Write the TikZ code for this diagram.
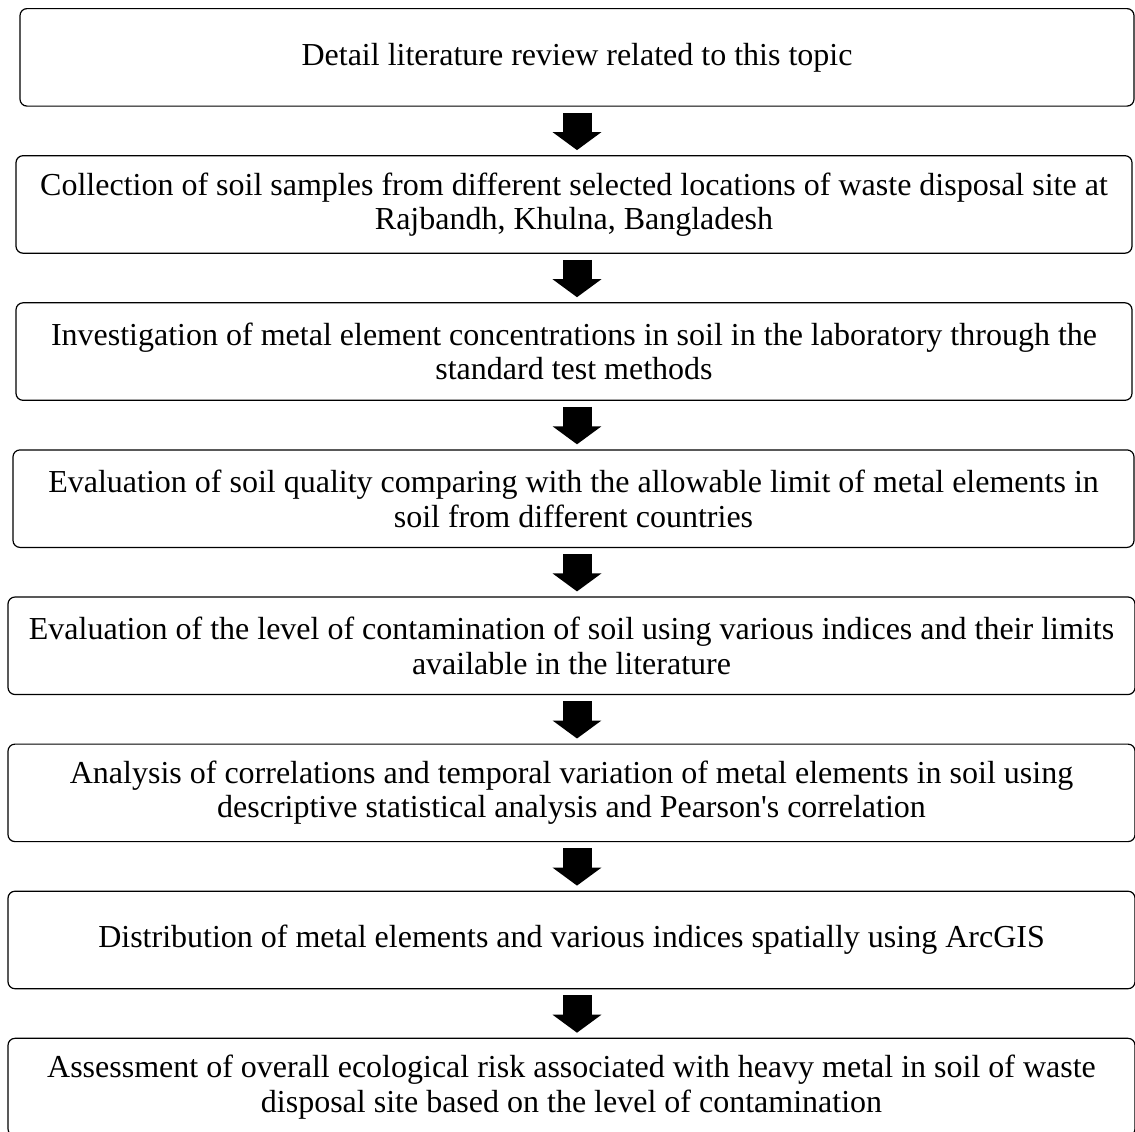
\documentclass[tikz,border=0pt]{standalone}
\usepackage{fontspec}
\setmainfont{Liberation Serif}
\usepackage{tikz}
\usetikzlibrary{positioning,arrows.meta}

\begin{document}
\begin{tikzpicture}[node distance=24.2pt,
        stage/.style={rectangle, draw, rounded corners=3.5pt, line width=0.6pt, minimum height=48.75pt, inner sep=0pt, align=center, font=\fontsize{16}{17.25}\selectfont},
        flow/.style={-{Triangle[width=24pt,length=9pt]}, line width=14.5pt}]
        \clip (0,0) rectangle (567.5pt,-565.5pt);
                \node (review) [stage, minimum width=557pt, anchor=north] at (288.5pt,-4pt) {Detail literature review related to this topic};
                \node (sampling) [stage, minimum width=558pt, below=of review, xshift=-1.5pt] {Collection of soil samples from different selected locations of waste disposal site at\\Rajbandh, Khulna, Bangladesh};
                \node (labtest) [stage, minimum width=558pt, below=of sampling] {Investigation of metal element concentrations in soil in the laboratory through the\\standard test methods};
                \node (quality) [stage, minimum width=560.5pt, below=of labtest, xshift=-0.25pt] {Evaluation of soil quality comparing with the allowable limit of metal elements in\\soil from different countries};
                \node (indices) [stage, minimum width=563.5pt, below=of quality, xshift=-1pt] {Evaluation of the level of contamination of soil using various indices and their limits\\available in the literature};
                \node (stats) [stage, minimum width=563.5pt, below=of indices] {Analysis of correlations and temporal variation of metal elements in soil using\\descriptive statistical analysis and Pearson\textquotesingle s correlation};
                \node (mapping) [stage, minimum width=563.5pt, below=of stats] {Distribution of metal elements and various indices spatially using ArcGIS};
                \node (risk) [stage, minimum width=563.5pt, below=of mapping] {Assessment of overall ecological risk associated with heavy metal in soil of waste\\disposal site based on the level of contamination};

        \foreach \a/\b in {review/sampling, sampling/labtest, labtest/quality, quality/indices, indices/stats, stats/mapping, mapping/risk}
                \draw[flow] ([yshift=-3pt]review.south |- \a.south) -- ([yshift=2.5pt]review.south |- \b.north);
\end{tikzpicture}
\end{document}
